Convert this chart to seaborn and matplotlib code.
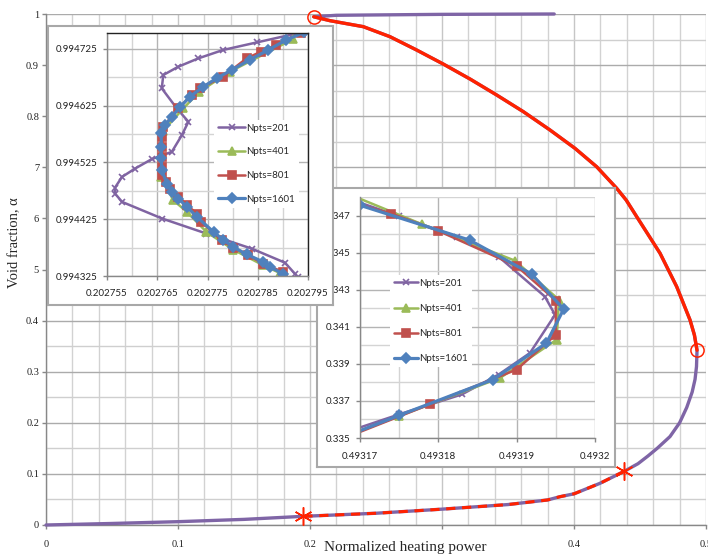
import numpy as np
import matplotlib
matplotlib.use("Agg")
import matplotlib.pyplot as plt
from matplotlib.ticker import FixedLocator
import seaborn as sns

sns.set_style("white")
plt.rcParams['font.family'] = ['Liberation Serif', 'DejaVu Serif']

# ---- main S-curve (normalized heating power vs void fraction)
# stable lower branch up to the first star
lo_x = [0.0, 0.05, 0.10, 0.15, 0.195]
lo_a = [0.0, 0.003, 0.0065, 0.011, 0.017]
# part between the two stars (red dashed on top of purple)
dash_x = [0.195, 0.25, 0.30, 0.35, 0.38, 0.3894, 0.40, 0.4197, 0.438]
dash_a = [0.017, 0.023, 0.031, 0.040, 0.049, 0.0554, 0.061, 0.0816, 0.105]
# up to the right turning point
mid_x = [0.438, 0.4485, 0.4560, 0.4630, 0.4727, 0.4800, 0.4854, 0.4895, 0.4917, 0.4928, 0.4932]
mid_a = [0.105, 0.12, 0.135, 0.15, 0.173, 0.20, 0.23, 0.26, 0.285, 0.31, 0.342]
# branch between the turning points (red solid)
unst_x = [0.4932, 0.4912, 0.4879, 0.4778, 0.4652, 0.4475, 0.4395, 0.4323, 0.4172,
          0.4008, 0.3818, 0.3616, 0.3414, 0.3212, 0.301, 0.2808, 0.2606, 0.2404,
          0.2152, 0.2028]
unst_a = [0.342, 0.372, 0.4012, 0.4664, 0.5317, 0.6034, 0.636, 0.659, 0.701,
          0.737, 0.773, 0.8089, 0.8415, 0.8728, 0.902, 0.9295, 0.9556, 0.9752,
          0.9869, 0.9946]
# after the upper turning point
top_x = [0.2028, 0.22, 0.30, 0.385]
top_a = [0.9946, 0.9975, 0.9993, 1.0]

turn_x = [0.2028, 0.4932]
turn_a = [0.9946, 0.342]
star_x = [0.195, 0.438]
star_a = [0.017, 0.105]

main_xticks = [0.0, 0.1, 0.2, 0.3, 0.4, 0.5]
main_xlabels = ['0', '0.1', '0.2', '', '0.4', '0.5']
main_yticks = [0.0, 0.1, 0.2, 0.3, 0.4, 0.5, 0.6, 0.7, 0.8, 0.9, 1.0]
main_ylabels = ['0', '0.1', '0.2', '0.3', '0.4', '5', '6', '7', '0.8', '0.9', '1']

# ---- inset 1: upper turning point
i1_201_x = [0.2027943, 0.202792, 0.2027849, 0.2027781, 0.2027732, 0.2027692, 0.2027662,
            0.2027659, 0.2027689, 0.2027712, 0.2027699, 0.2027679, 0.2027639, 0.2027606,
            0.202758, 0.2027566, 0.2027566, 0.202758, 0.202766, 0.2027748, 0.2027838,
            0.2027904, 0.2027925, 0.202793]
i1_201_y = [0.9947556, 0.9947507, 0.9947366, 0.9947231, 0.9947084, 0.9946937, 0.994679,
            0.9946555, 0.9946202, 0.9945967, 0.9945731, 0.9945437, 0.9945308, 0.9945143,
            0.9944996, 0.9944808, 0.9944702, 0.9944555, 0.9944261, 0.9943997, 0.9943732,
            0.9943485, 0.994328, 0.9943232]
i1_401_x = [0.202792, 0.2027795, 0.2027734, 0.2027702, 0.2027662, 0.2027658, 0.2027658,
            0.2027682, 0.2027709, 0.2027748, 0.2027801, 0.2027861, 0.2027894]
i1_401_y = [0.994742, 0.994685, 0.9946497, 0.9946203, 0.9945809, 0.9945379, 0.9944985,
            0.9944585, 0.9944379, 0.9944026, 0.9943715, 0.9943438, 0.9943303]
i1_801_x = [0.2027936, 0.2027887, 0.2027857, 0.2027828, 0.2027781, 0.2027735, 0.2027719,
            0.2027692, 0.2027662, 0.202766, 0.202766, 0.202766, 0.202766, 0.202766,
            0.2027667, 0.2027676, 0.2027692, 0.2027709, 0.2027729, 0.2027738, 0.2027778,
            0.2027801, 0.2027831, 0.2027861, 0.20279]
i1_801_y = [0.9947526, 0.994732, 0.9947203, 0.9947085, 0.9946762, 0.9946556, 0.9946438,
            0.9946203, 0.9945879, 0.9945703, 0.9945526, 0.994535, 0.9945173, 0.9945026,
            0.9944909, 0.9944791, 0.9944644, 0.9944497, 0.994435, 0.9944203, 0.9943879,
            0.994375, 0.9943615, 0.9943468, 0.9943321]
i1_1601_x = [0.2027943, 0.2027907, 0.2027871, 0.2027834, 0.2027798, 0.2027768, 0.2027742,
             0.2027715, 0.2027696, 0.2027679, 0.2027666, 0.2027658, 0.2027658, 0.2027658,
             0.2027659, 0.2027669, 0.2027679, 0.2027692, 0.2027709, 0.2027729, 0.2027762,
             0.2027781, 0.2027801, 0.2027828, 0.2027861, 0.2027874, 0.20279]
i1_1601_y = [0.9947544, 0.9947409, 0.9947232, 0.9947056, 0.9946879, 0.9946732, 0.9946585,
             0.9946409, 0.9946232, 0.9946056, 0.9945909, 0.9945762, 0.9945526, 0.994532,
             0.9945115, 0.9944879, 0.9944732, 0.9944615, 0.9944468, 0.9944291, 0.9944026,
             0.9943891, 0.9943762, 0.9943632, 0.9943497, 0.9943409, 0.9943291]
i1_xticks = [0.202755, 0.202765, 0.202775, 0.202785, 0.202795]
i1_xlabels = ['0.202755', '0.202765', '0.202775', '0.202785', '0.202795']
i1_xminor = [0.20276, 0.20277, 0.20278, 0.20279]
i1_yticks = [0.994325, 0.994425, 0.994525, 0.994625, 0.994725]
i1_ylabels = ['0.994325', '0.994425', '0.994525', '0.994625', '0.994725']
i1_yminor = [0.994375, 0.994475, 0.994575, 0.994675]

# ---- inset 2: right turning point
i2_201_x = [0.4931679, 0.493175, 0.4931824, 0.4931877, 0.4931936, 0.4931949, 0.4931917,
            0.4931877, 0.493183, 0.493175, 0.4931674]
i2_201_y = [0.348, 0.346962, 0.345852, 0.344778, 0.34263, 0.341645, 0.339587,
            0.338424, 0.33735, 0.336276, 0.3352]
i2_401_x = [0.4931674, 0.4931779, 0.4931898, 0.4931954, 0.4931951, 0.4931879, 0.493175, 0.4931628]
i2_401_y = [0.348358, 0.346532, 0.344563, 0.342451, 0.340303, 0.338245, 0.336186, 0.334217]
i2_801_x = [0.493166, 0.493174, 0.49318, 0.49319, 0.493195, 0.493195, 0.49319, 0.4931789, 0.4931687]
i2_801_y = [0.34802, 0.347105, 0.346174, 0.344277, 0.342415, 0.340572, 0.338692, 0.336813, 0.335112]
i2_1601_x = [0.49317, 0.493184, 0.4931919, 0.493196, 0.4931938, 0.493187, 0.493175, 0.493164]
i2_1601_y = [0.347553, 0.345673, 0.343847, 0.34195, 0.340124, 0.338155, 0.336222, 0.3344]
i2_xticks = [0.49317, 0.49318, 0.49319, 0.4932]
i2_xlabels = ['0.49317', '0.49318', '0.49319', '0.4932']
i2_xminor = [0.493175, 0.493185, 0.493195]
i2_yticks = [0.335, 0.337, 0.339, 0.341, 0.343, 0.345, 0.347]
i2_ylabels = ['0.335', '0.337', '0.339', '0.341', '0.343', '0.345', '0.347']
i2_yminor = [0.336, 0.338, 0.340, 0.342, 0.344, 0.346, 0.348]

labels = ['Npts=201', 'Npts=401', 'Npts=801', 'Npts=1601']
colors = ['#8064A2', '#9BBB59', '#C0504D', '#4F81BD']
markers = ['x', '^', 's', 'D']
msizes = [5, 6, 6, 5]
lwidths = [1.8, 1.8, 1.8, 2.3]

PURPLE = '#7F65A6'
RED = '#FF2200'
SANS = ['Lato', 'DejaVu Sans']

fig = plt.figure(figsize=(7.08, 5.58), dpi=100)

# ================= main axes
ax = fig.add_axes([46/708, 33/558, 660/708, 511/558], zorder=0)
purple_x = lo_x + dash_x[1:] + mid_x[1:] + unst_x[1:] + top_x[1:]
purple_a = lo_a + dash_a[1:] + mid_a[1:] + unst_a[1:] + top_a[1:]
sns.lineplot(x=purple_x, y=purple_a, sort=False, estimator=None, color=PURPLE,
             lw=2.4, ax=ax, clip_on=False, zorder=3)
sns.lineplot(x=unst_x, y=unst_a, sort=False, estimator=None, color=RED,
             lw=2.4, ax=ax, clip_on=False, zorder=4)
sns.lineplot(x=dash_x, y=dash_a, sort=False, estimator=None, color=RED,
             lw=2.2, ls=(0, (3, 2.2)), ax=ax, zorder=4)
ax.plot(turn_x, turn_a, 'o', mfc='none', mec=RED, ms=9.5, mew=1.1, zorder=5, clip_on=False)
ax.plot(star_x, star_a, marker=(6, 2, 0), ls='none', mec=RED, ms=13, mew=1.1, zorder=5)

ax.set_xlim(0, 0.5)
ax.set_ylim(0, 1)
ax.xaxis.set_minor_locator(FixedLocator(np.arange(0, 0.5001, 0.02)))
ax.yaxis.set_minor_locator(FixedLocator(np.arange(0, 1.0001, 0.05)))
ax.set_xticks(main_xticks, labels=main_xlabels, fontsize=7.5, color='#222222')
ax.set_yticks(main_yticks, labels=main_ylabels, fontsize=7.5, color='#222222')
ax.grid(which='major', axis='x', color='#c6c6c6', lw=1)
ax.grid(which='minor', axis='x', color='#d2d2d2', lw=1)
ax.grid(which='major', axis='y', color='#ababab', lw=1)
ax.grid(which='minor', axis='y', color='#cfcfcf', lw=1)
ax.set_axisbelow(True)
ax.tick_params(which='major', bottom=True, left=True, direction='out', length=3,
               width=1, color='#888888')
ax.tick_params(which='minor', length=0)
ax.tick_params(axis='x', pad=8)
ax.tick_params(axis='y', pad=2)
for s in ['top', 'right']:
    ax.spines[s].set_visible(False)
for s in ['left', 'bottom']:
    ax.spines[s].set_color('#888888')
    ax.spines[s].set_linewidth(1)
ax.set_xlabel('')
ax.set_ylabel('')

fig.text(405/708, (558-548)/558, 'Normalized heating power', ha='center', va='center',
         fontsize=11)
fig.text(15/708, (558-243)/558, 'Void fraction, \u03b1', ha='center', va='center',
         rotation=90, fontsize=10.5)


def box(rect, z):
    b = fig.add_axes(rect, zorder=z)
    b.set_facecolor('white')
    b.set_xticks([])
    b.set_yticks([])
    for s in b.spines.values():
        s.set_color('#a8a8a8')
        s.set_linewidth(1.5)
    return b


def style_inset(a, xt, xl, xm, yt, yl, ym, xpad, ypad):
    a.set_xticks(xt, labels=xl, fontsize=7, family=SANS, color='#222222')
    a.set_yticks(yt, labels=yl, fontsize=7, family=SANS, color='#222222')
    a.xaxis.set_minor_locator(FixedLocator(xm))
    a.yaxis.set_minor_locator(FixedLocator(ym))
    a.grid(which='major', color='#b4b4b4', lw=1)
    a.grid(which='minor', color='#d4d4d4', lw=1)
    a.set_axisbelow(True)
    a.tick_params(which='major', bottom=True, left=True, direction='out', length=3,
                  width=1, color='#888888')
    a.tick_params(which='minor', length=0)
    a.tick_params(axis='x', pad=xpad)
    a.tick_params(axis='y', pad=ypad)
    a.set_xlabel('')
    a.set_ylabel('')
    for s in ['left', 'bottom']:
        a.spines[s].set_color('#888888')
        a.spines[s].set_linewidth(1)


def draw(a, xs_list, ys_list):
    for xs, ys, lab, c, m, ms, lw in zip(xs_list, ys_list, labels, colors, markers, msizes, lwidths):
        sns.lineplot(x=xs, y=ys, sort=False, estimator=None, color=c, lw=lw,
                     marker=m, ms=ms, mec=c, mfc=c, mew=1.2, label=lab, ax=a, legend=False)


# ================= inset 2 (drawn first, lies below inset 1)
box([317/708, (558-467)/558, 298/708, 279/558], 2)
in2 = fig.add_axes([360/708, 120/558, 235/708, 241/558], zorder=3)
draw(in2, [i2_201_x, i2_401_x, i2_801_x, i2_1601_x], [i2_201_y, i2_401_y, i2_801_y, i2_1601_y])
in2.set_xlim(0.49317, 0.4932)
in2.set_ylim(0.335, 0.348)
style_inset(in2, i2_xticks, i2_xlabels, i2_xminor, i2_yticks, i2_ylabels, i2_yminor, 7, 4)
for s in ['top', 'right']:
    in2.spines[s].set_visible(False)
in2.legend(loc='upper left', bbox_to_anchor=(390/708, (558-275)/558), bbox_transform=fig.transFigure,
           borderaxespad=0, frameon=True, facecolor='white', edgecolor='none', framealpha=1,
           prop={'family': SANS, 'size': 7}, handlelength=2.5, handletextpad=0.1,
           labelspacing=1.65, borderpad=0.4)

# ================= inset 1
box([48/708, (558-305)/558, 285/708, 279/558], 4)
in1 = fig.add_axes([107/708, (558-276)/558, 201/708, 243/558], zorder=5)
draw(in1, [i1_201_x, i1_401_x, i1_801_x, i1_1601_x], [i1_201_y, i1_401_y, i1_801_y, i1_1601_y])
in1.set_xlim(0.202755, 0.202795)
in1.set_ylim(0.994325, 0.994753)
style_inset(in1, i1_xticks, i1_xlabels, i1_xminor, i1_yticks, i1_ylabels, i1_yminor, 6, 4)
for s in ['top', 'right']:
    in1.spines[s].set_color('#222222')
    in1.spines[s].set_linewidth(1)
in1.legend(loc='upper left', bbox_to_anchor=(214/708, (558-120)/558), bbox_transform=fig.transFigure,
           borderaxespad=0, frameon=True, facecolor='white', edgecolor='none', framealpha=1,
           prop={'family': SANS, 'size': 7}, handlelength=2.8, handletextpad=0.1,
           labelspacing=1.5, borderpad=0.4)

fig.savefig('out.png', dpi=100)
